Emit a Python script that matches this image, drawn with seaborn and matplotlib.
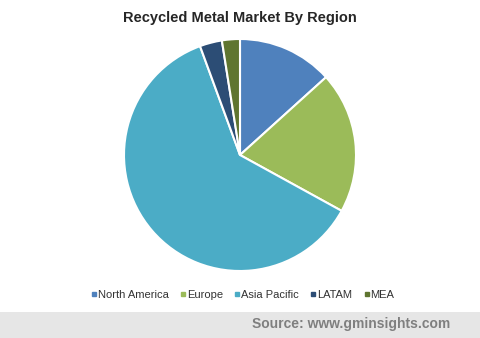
import matplotlib
matplotlib.use("Agg")
import matplotlib.pyplot as plt
import seaborn as sns

sns.set_theme(style="white")
plt.rcParams['font.family'] = ['Liberation Sans', 'DejaVu Sans']

regions = ["North America", "Europe", "Asia Pacific", "LATAM", "MEA"]
shares = [13.3, 19.7, 61.4, 3.1, 2.5]
colors = ["#4F81BD", "#9BBB59", "#4BACC6", "#2C4D75", "#5F7530"]

fig = plt.figure(figsize=(4.8, 3.38), dpi=100)
fig.patch.set_facecolor("white")

ax = fig.add_axes([0.0, 0.0, 1.0, 1.0])
ax.set_xlim(0, 480)
ax.set_ylim(338, 0)
ax.axis("off")

R = 116
pax = fig.add_axes([(240 - R) / 480, 1 - (155 + R) / 338, 2 * R / 480, 2 * R / 338])
wedges, _ = pax.pie(shares, colors=colors, startangle=90, counterclock=False,
                    wedgeprops=dict(edgecolor="white", linewidth=1.5))
pax.set_xlim(-1.0, 1.0)
pax.set_ylim(-1.0, 1.0)
pax.set_aspect("equal")
pax.axis("off")

fig.text(0.5, 1 - 18 / 338, "Recycled Metal Market By Region", ha="center", va="center",
         fontsize=10.5, fontweight="bold", color="#262626")

from matplotlib.patches import Rectangle
fig.patches.append(Rectangle((0, 0), 1, 26 / 338, transform=fig.transFigure,
                             facecolor="#E6E6E6", edgecolor="none", zorder=0))
fig.text(450 / 480, 1 - 324 / 338, "Source: www.gminsights.com", ha="right", va="center",
         fontsize=10, fontweight="bold", color="#7F7F7F")

from matplotlib.lines import Line2D
handles = [Line2D([], [], marker="s", linestyle="none", markersize=3.2,
                  markerfacecolor=c, markeredgecolor=c) for c in colors]
fig.legend(handles, regions, loc="center", bbox_to_anchor=(0.505, 1 - 295 / 338), ncol=5,
           frameon=False, fontsize=8, handletextpad=0.05, columnspacing=1.0,
           handlelength=0.6, labelcolor="#333333")

fig.savefig("out.png", dpi=100)
